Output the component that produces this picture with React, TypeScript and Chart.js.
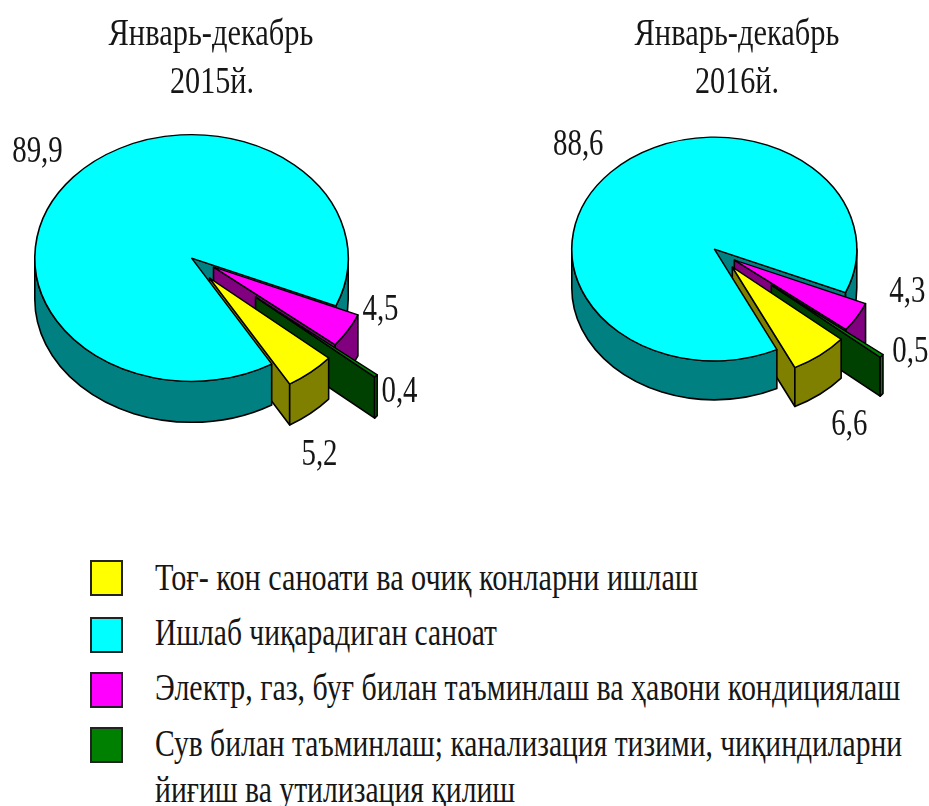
import React, { useEffect, useLayoutEffect, useRef } from "react";
import { Chart, registerables } from "chart.js";

Chart.register(...registerables);

const categories = [
  "Тоғ- кон саноати ва очиқ конларни ишлаш",
  "Ишлаб чиқарадиган саноат",
  "Электр, газ, буғ билан таъминлаш ва ҳавони кондициялаш",
  "Сув билан таъминлаш; канализация тизими, чиқиндиларни",
];
const categoryContinuation = "йиғиш ва утилизация қилиш";
const values2015 = [5.2, 89.9, 4.5, 0.4];
const values2016 = [6.6, 88.6, 4.3, 0.5];
const labels2015 = ["5,2", "89,9", "4,5", "0,4"];
const labels2016 = ["6,6", "88,6", "4,3", "0,5"];
const faceColors = ["#ffff00", "#00ffff", "#ff00ff", "#008000"];
const wallColors = ["#808000", "#008080", "#800080", "#004000"];
const titleLine1 = "Январь-декабрь";
const title2015 = "2015й.";
const title2016 = "2016й.";

const SERIF = "'Liberation Serif', serif";
const INK = "#161616";

type Cfg = {
  tilt: number;
  depth: number;
  explode: number[][];
  labelAt: number[][];
  texts: string[];
  labelScale: number;
};

function visibleRanges(a0: number, a1: number) {
  const out: number[][] = [];
  for (const k of [0, Math.PI * 2]) {
    const lo = Math.max(a0, k);
    const hi = Math.min(a1, k + Math.PI);
    if (hi > lo) out.push([lo, hi]);
  }
  return out;
}

const pie3d = {
  id: "pie3d",
  beforeDatasetDraw(chart: any, _args: any, opts: Cfg) {
    const ctx = chart.ctx as CanvasRenderingContext2D;
    const arcs = chart.getDatasetMeta(0).data;
    const { tilt, depth, explode } = opts;
    const stroke = (fill: string) => {
      ctx.fillStyle = fill;
      ctx.strokeStyle = "#000";
      ctx.lineWidth = 1.6;
      ctx.lineJoin = "round";
      ctx.fill();
      ctx.stroke();
    };
    const centre = (i: number) => [arcs[i].x + explode[i][0], arcs[i].y + explode[i][1]];
    const radialWall = (i: number) => {
      const [cx, cy] = centre(i);
      const a = arcs[i].endAngle;
      const R = arcs[i].outerRadius;
      const px = cx + R * Math.cos(a);
      const py = cy + R * tilt * Math.sin(a);
      ctx.beginPath();
      ctx.moveTo(cx, cy);
      ctx.lineTo(px, py);
      ctx.lineTo(px, py + depth);
      ctx.lineTo(cx, cy + depth);
      ctx.closePath();
      stroke(wallColors[i]);
    };
    const outerWall = (i: number) => {
      const [cx, cy] = centre(i);
      const R = arcs[i].outerRadius;
      for (const [lo, hi] of visibleRanges(arcs[i].startAngle, arcs[i].endAngle)) {
        ctx.beginPath();
        ctx.ellipse(cx, cy, R, R * tilt, 0, lo, hi);
        ctx.ellipse(cx, cy + depth, R, R * tilt, 0, hi, lo, true);
        ctx.closePath();
        stroke(i === 3 ? faceColors[3] : wallColors[i]);
      }
    };
    const top = (i: number) => {
      const [cx, cy] = centre(i);
      ctx.save();
      ctx.translate(cx, cy);
      ctx.scale(1, tilt);
      ctx.translate(-arcs[i].x, -arcs[i].y);
      arcs[i].draw(ctx);
      ctx.restore();
    };
    const [Y, C, M, G] = [0, 1, 2, 3];

    radialWall(C);
    radialWall(M);
    radialWall(Y);
    outerWall(C);
    top(C);
    outerWall(M);
    top(M);
    radialWall(G);
    outerWall(G);
    top(G);
    outerWall(Y);
    top(Y);

    ctx.save();
    ctx.font = `37px ${SERIF}`;
    ctx.fillStyle = INK;
    ctx.textAlign = "center";
    ctx.textBaseline = "middle";
    opts.texts.forEach((t, i) => {
      ctx.save();
      ctx.translate(arcs[i].x + opts.labelAt[i][0], arcs[i].y + opts.labelAt[i][1]);
      ctx.scale(opts.labelScale, 1);
      ctx.fillText(t, 0, 0);
      ctx.restore();
    });
    ctx.restore();
    return false;
  },
};

function Pie({ left, width, height, values, padding, rotation, cfg }: any) {
  const ref = useRef<HTMLCanvasElement>(null);
  useEffect(() => {
    const chart = new Chart(ref.current!, {
      type: "pie",
      data: {
        labels: categories,
        datasets: [
          {
            data: values,
            backgroundColor: faceColors,
            borderColor: "#000",
            borderWidth: 1.6,
          },
        ],
      },
      options: {
        responsive: false,
        animation: false,
        rotation,
        layout: { padding },
        plugins: { legend: { display: false }, tooltip: { enabled: false }, pie3d: cfg },
      } as any,
      plugins: [pie3d],
    });
    return () => chart.destroy();
  }, []);
  return (
    <canvas
      ref={ref}
      width={width}
      height={height}
      style={{ position: "absolute", left, top: 0, width, height }}
    />
  );
}

function Fit({ text, x, y, w, size, center }: any) {
  const ref = useRef<HTMLSpanElement>(null);
  useLayoutEffect(() => {
    const el = ref.current!;
    const natural = el.offsetWidth;
    const s = w / natural;
    el.style.transform = center
      ? `translate(-50%,-50%) scaleX(${s})`
      : `translateY(-50%) scaleX(${s})`;
  }, []);
  return (
    <span
      ref={ref}
      style={{
        position: "absolute",
        left: x,
        top: y,
        whiteSpace: "nowrap",
        fontFamily: SERIF,
        fontSize: size,
        lineHeight: 1,
        color: INK,
        transformOrigin: center ? "center" : "left center",
      }}
    >
      {text}
    </span>
  );
}

const swatchTops = [560, 617, 672, 727];
const legendRows = [
  { text: categories[0], y: 577, w: 543 },
  { text: categories[1], y: 632, w: 342 },
  { text: categories[2], y: 687, w: 745 },
  { text: categories[3], y: 743, w: 747 },
  { text: categoryContinuation, y: 789, w: 360 },
];

export default function App() {
  return (
    <div
      style={{
        position: "fixed",
        left: 0,
        top: 0,
        width: 929,
        height: 806,
        overflow: "hidden",
        background: "#fff",
      }}
    >
      <Pie
        left={0}
        width={450}
        height={480}
        values={values2015}
        rotation={130.5}
        padding={{ left: 34, right: 101, top: 100.5, bottom: 64.5 }}
        cfg={{
          tilt: 0.787,
          depth: 41,
          explode: [
            [18, 20],
            [0, 0],
            [22, 9],
            [64, 39],
          ],
          labelAt: [
            [128, 197],
            [-154, -106],
            [189, 52],
            [208, 134],
          ],
          texts: labels2015,
          labelScale: 0.78,
        }}
      />
      <Pie
        left={530}
        width={399}
        height={480}
        values={values2016}
        rotation={130.2}
        padding={{ left: 41, right: 71.4, top: 105.7, bottom: 87.7 }}
        cfg={{
          tilt: 0.785,
          depth: 39,
          explode: [
            [18, 18],
            [0, 0],
            [20, 11],
            [57, 36],
          ],
          labelAt: [
            [135, 176],
            [-136, -104],
            [193, 43],
            [196, 103],
          ],
          texts: labels2016,
          labelScale: 0.78,
        }}
      />
      <Fit text={titleLine1} x={211} y={32} w={205} size={37} center />
      <Fit text={title2015} x={212} y={80} w={84} size={37} center />
      <Fit text={titleLine1} x={737} y={32} w={205} size={37} center />
      <Fit text={title2016} x={737} y={80} w={84} size={37} center />
      {swatchTops.map((t, i) => (
        <div
          key={i}
          style={{
            position: "absolute",
            left: 90,
            top: t,
            width: 29,
            height: 32,
            background: faceColors[i],
            border: "2px solid #222",
          }}
        />
      ))}
      {legendRows.map((r, i) => (
        <Fit key={i} text={r.text} x={155} y={r.y} w={r.w} size={38} />
      ))}
    </div>
  );
}
